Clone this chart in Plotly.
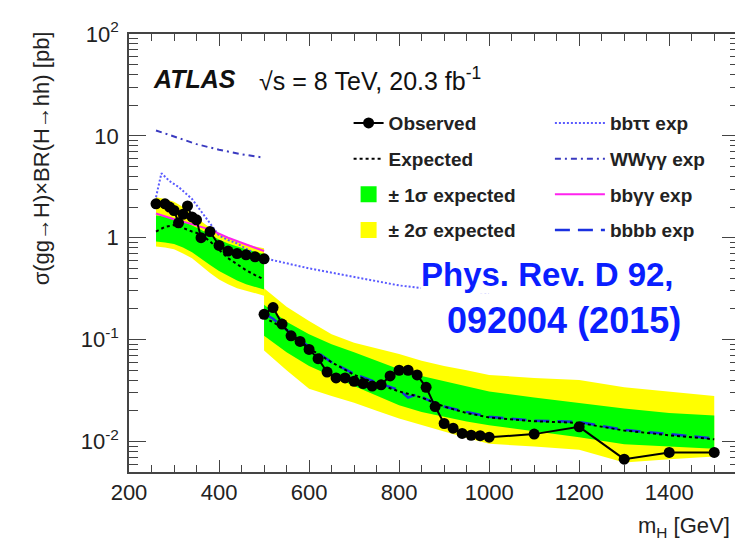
import plotly.graph_objects as go

# ---------------- data ----------------
# Observed limits
obs_mass_low = [260, 280, 290, 300, 310, 320, 330, 340, 350, 360, 380, 400, 420, 440, 460, 480, 500]
obs_low = [2.15, 2.15, 2.0, 1.85, 1.4, 1.7, 2.05, 1.6, 1.5, 1.0, 1.15, 0.84, 0.74, 0.70, 0.68, 0.65, 0.62]
obs_mass_high = [500, 520, 540, 560, 580, 600, 620, 640, 660, 680, 700, 720, 740, 760, 780, 800,
                 820, 840, 860, 880, 900, 920, 940, 960, 980, 1000, 1100, 1200, 1300, 1400, 1500]
obs_high = [0.177, 0.206, 0.142, 0.109, 0.096, 0.080, 0.065, 0.048, 0.042, 0.042, 0.039, 0.037,
            0.035, 0.036, 0.044, 0.050, 0.050, 0.045, 0.034, 0.022, 0.015, 0.0135, 0.012, 0.0115,
            0.0114, 0.011, 0.0118, 0.0139, 0.0067, 0.0078, 0.0078]

# Expected limits and bands, low-mass region
band_mass_low = [260, 280, 300, 320, 340, 360, 380, 400, 420, 440, 460, 480, 500]
exp_low = [1.15, 1.28, 1.33, 1.25, 1.15, 1.08, 0.92, 0.76, 0.63, 0.55, 0.48, 0.43, 0.39]
g_up_low = [1.65, 1.62, 1.55, 1.45, 1.32, 1.20, 1.07, 0.96, 0.88, 0.82, 0.77, 0.73, 0.69]
g_dn_low = [0.92, 0.90, 0.87, 0.80, 0.72, 0.62, 0.54, 0.47, 0.42, 0.38, 0.35, 0.33, 0.31]
y_up_low = [2.50, 2.40, 2.25, 2.00, 1.72, 1.45, 1.25, 1.10, 1.00, 0.93, 0.87, 0.82, 0.79]
y_dn_low = [0.82, 0.80, 0.77, 0.70, 0.63, 0.53, 0.45, 0.39, 0.35, 0.32, 0.30, 0.285, 0.27]

# Expected limits and bands, high-mass region
band_mass_high = [500, 550, 600, 650, 700, 750, 800, 850, 900, 950, 1000, 1100, 1200, 1300, 1400, 1500]
exp_high = [0.165, 0.125, 0.082, 0.060, 0.045, 0.037, 0.031, 0.027, 0.022, 0.019, 0.0172,
             0.0158, 0.0152, 0.0128, 0.0115, 0.0105]
g_up_high = [0.22, 0.15, 0.113, 0.090, 0.075, 0.062, 0.051, 0.044, 0.039, 0.035, 0.031,
             0.027, 0.024, 0.021, 0.019, 0.018]
g_dn_high = [0.109, 0.075, 0.055, 0.044, 0.035, 0.028, 0.0226, 0.0195, 0.0174, 0.0157, 0.0144,
             0.0125, 0.011, 0.0094, 0.0089, 0.0085]
y_up_high = [0.32, 0.21, 0.152, 0.113, 0.093, 0.082, 0.072, 0.062, 0.055, 0.050, 0.045,
             0.042, 0.040, 0.034, 0.031, 0.028]
y_dn_high = [0.078, 0.050, 0.033, 0.028, 0.024, 0.020, 0.0168, 0.0145, 0.0125, 0.0108, 0.0095,
             0.0089, 0.0083, 0.0062, 0.0067, 0.0071]

# Individual channel expected limits
bbtautau_mass = [260, 272, 290, 310, 340, 370, 390, 400, 420, 440, 460, 480, 500, 600, 700, 800, 900, 1000]
bbtautau_exp = [2.5, 4.3, 3.6, 3.15, 2.4, 1.6, 1.2, 1.05, 0.95, 0.88, 0.78, 0.70, 0.63, 0.50,
                0.41, 0.34, 0.30, 0.29]
wwgg_mass = [260, 300, 350, 400, 450, 500]
wwgg_exp = [11.3, 9.9, 8.3, 7.3, 6.6, 6.1]
bbgg_mass = [260, 300, 340, 380, 420, 460, 500]
bbgg_exp = [1.73, 1.52, 1.36, 1.20, 1.00, 0.86, 0.74]
bbbb_mass = [500, 520, 540, 560, 600, 650, 700, 750, 800, 820, 840, 860, 900, 950, 1000,
             1100, 1200, 1300, 1400, 1500]
bbbb_exp = [0.18, 0.16, 0.135, 0.115, 0.085, 0.060, 0.046, 0.038, 0.032, 0.027, 0.029, 0.026,
            0.022, 0.0195, 0.0175, 0.016, 0.0155, 0.013, 0.0117, 0.0107]

x_ticks = [200, 400, 600, 800, 1000, 1200, 1400]
y_ticks = [0.01, 0.1, 1, 10, 100]
y_ticktext = ["10<sup>-2</sup>", "10<sup>-1</sup>", "1", "10", "10<sup>2</sup>"]

# ---------------- figure ----------------
FONT = "Liberation Sans, Arial, Helvetica, sans-serif"
GREEN = "#00ff00"
YELLOW = "#ffff00"

fig = go.Figure()


def band(mass, up, dn, color, name, group):
    fig.add_trace(go.Scatter(
        x=list(mass) + list(mass)[::-1], y=list(up) + list(dn)[::-1],
        fill="toself", fillcolor=color, line=dict(width=0), mode="lines",
        name=name, showlegend=False, legendgroup=group, legend="legend",
        hoverinfo="skip"))


band(band_mass_low, y_up_low, y_dn_low, YELLOW, "± 2σ expected", "y2")
band(band_mass_high, y_up_high, y_dn_high, YELLOW, "± 2σ expected", "y2")
band(band_mass_low, g_up_low, g_dn_low, GREEN, "± 1σ expected", "g1")
band(band_mass_high, g_up_high, g_dn_high, GREEN, "± 1σ expected", "g1")

# channel lines
fig.add_trace(go.Scatter(x=bbtautau_mass, y=bbtautau_exp, mode="lines", name="bbττ exp",
                         line=dict(color="#5a5aff", width=2, dash="2px,2px"),
                         legend="legend2", legendgroup="c1"))
fig.add_trace(go.Scatter(x=wwgg_mass, y=wwgg_exp, mode="lines", name="WWγγ exp",
                         line=dict(color="#3a3ac0", width=2, dash="6px,4px,2px,4px"),
                         legend="legend2", legendgroup="c2"))
fig.add_trace(go.Scatter(x=bbgg_mass, y=bbgg_exp, mode="lines", name="bbγγ exp",
                         line=dict(color="#ff22ee", width=2),
                         legend="legend2", legendgroup="c3"))
fig.add_trace(go.Scatter(x=bbbb_mass, y=bbbb_exp, mode="lines", name="bbbb exp",
                         line=dict(color="#1a30e0", width=2.5, dash="15px,8px"),
                         legend="legend2", legendgroup="c4"))

# expected
for m, v in [(band_mass_low, exp_low), (band_mass_high, exp_high)]:
    fig.add_trace(go.Scatter(x=m, y=v, mode="lines", name="Expected",
                             line=dict(color="black", width=2, dash="3px,3px"),
                             showlegend=False, legend="legend", legendgroup="e"))

# observed
for m, v in [(obs_mass_low, obs_low), (obs_mass_high, obs_high)]:
    fig.add_trace(go.Scatter(x=m, y=v, mode="lines+markers", name="Observed",
                             line=dict(color="black", width=2),
                             marker=dict(color="black", size=11),
                             showlegend=False, legend="legend", legendgroup="o"))

# legend entries in the desired order (left column)
fig.add_trace(go.Scatter(x=[None], y=[None], mode="lines+markers", name="Observed",
                         line=dict(color="black", width=2), marker=dict(color="black", size=11),
                         legend="legend", legendgroup="o"))
fig.add_trace(go.Scatter(x=[None], y=[None], mode="lines", name="Expected",
                         line=dict(color="black", width=2, dash="3px,3px"),
                         legend="legend", legendgroup="e"))
fig.add_trace(go.Scatter(x=[None], y=[None], mode="markers", name="± 1σ expected",
                         marker=dict(symbol="square", size=26, color=GREEN),
                         legend="legend", legendgroup="g1"))
fig.add_trace(go.Scatter(x=[None], y=[None], mode="markers", name="± 2σ expected",
                         marker=dict(symbol="square", size=26, color=YELLOW),
                         legend="legend", legendgroup="y2"))

axis_common = dict(
    showline=True, linecolor="#444", linewidth=1.5, mirror="allticks",
    ticks="inside", tickcolor="#444", tickwidth=1.2, showgrid=False, zeroline=False,
    tickfont=dict(family=FONT, size=22, color="#222"),
)

fig.update_layout(
    width=743, height=541,
    margin=dict(l=121, r=10, t=23, b=77),
    paper_bgcolor="white", plot_bgcolor="white",
    font=dict(family=FONT, color="#222"),
    xaxis=dict(range=[200, 1555], tickmode="array", tickvals=x_ticks, ticklen=12,
               minor=dict(ticks="inside", ticklen=7, dtick=50, tick0=200, tickcolor="#444",
                          showgrid=False),
               **axis_common),
    yaxis=dict(type="log", range=[-2.3, 2], tickmode="array", tickvals=y_ticks,
               ticktext=y_ticktext, ticklen=17, ticklabelstandoff=4,
               minor=dict(ticks="inside", ticklen=9, dtick="D1", tickcolor="#444",
                          showgrid=False),
               **axis_common),
    legend=dict(x=0.36, y=0.84, xanchor="left", yanchor="top", bgcolor="rgba(0,0,0,0)",
                font=dict(family=FONT, size=19, color="#222", weight="bold"),
                tracegroupgap=8, itemwidth=30, traceorder="grouped"),
    legend2=dict(x=0.69, y=0.84, xanchor="left", yanchor="top", bgcolor="rgba(0,0,0,0)",
                 font=dict(family=FONT, size=19, color="#222", weight="bold"),
                 tracegroupgap=8, itemwidth=50, traceorder="grouped"),
)

fig.add_annotation(text="σ(gg→H)×BR(H→hh) [pb]", xref="paper", yref="paper",
                   x=-0.144, y=1.011, xanchor="center", yanchor="top", textangle=-90,
                   showarrow=False, font=dict(family=FONT, size=22, color="#222"))
fig.add_annotation(text="m<sub>H</sub> [GeV]", xref="paper", yref="paper",
                   x=(630 - 121) / 612, y=-0.126, xanchor="left", yanchor="middle",
                   showarrow=False, font=dict(family=FONT, size=22, color="#222"))
fig.add_annotation(text="<b><i>ATLAS</i></b>", xref="paper", yref="paper",
                   x=0.036, y=0.898, xanchor="left", yanchor="middle",
                   showarrow=False, font=dict(family=FONT, size=25, color="#111"))
fig.add_annotation(text="√s\u00a0=\u00a08\u00a0TeV,\u00a020.3\u00a0fb<sup>-1</sup>",
                   xref="paper", yref="paper",
                   x=0.21, y=0.898, xanchor="left", yanchor="middle",
                   showarrow=False, font=dict(family=FONT, size=25, color="#111"))
fig.add_annotation(text="<b>Phys. Rev. D 92,</b>", xref="paper", yref="paper",
                   x=(541 - 121) / 612, y=0.451, xanchor="center", yanchor="middle",
                   bgcolor="white", borderpad=0,
                   showarrow=False, font=dict(family=FONT, size=33, color="#0a1eff"))
fig.add_annotation(text="<b>092004 (2015)</b>", xref="paper", yref="paper",
                   x=(557 - 121) / 612, y=0.345, xanchor="center", yanchor="middle",
                   bgcolor="white", borderpad=0,
                   showarrow=False, font=dict(family=FONT, size=36, color="#0a1eff"))

fig.write_html("out.html")
